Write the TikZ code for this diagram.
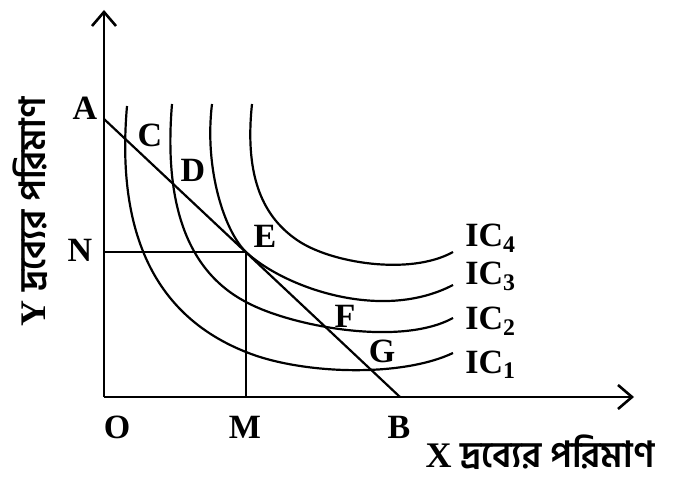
\documentclass[tikz,border=0pt]{standalone}
\usepackage{fontspec}
\setmainfont{Liberation Serif}
\newfontfamily\bnfont[Script=Bengali]{Hind Siliguri}
\usetikzlibrary{arrows.meta, positioning}

\begin{document}
\begin{tikzpicture}[
    x=0.5pt, y=-0.5pt,
    lbl/.style={font=\fontsize{17}{20}\selectfont\bfseries, inner sep=0pt, anchor=base},
    iclbl/.style={lbl, anchor=base west},
    axtitle/.style={lbl, font=\fontsize{18}{20}\selectfont\bfseries,
      text height=13pt, text depth=3pt},
    axis/.style={line width=1.3pt},
    ic/.style={line width=1.1pt},
    >={Straight Barb[length=7pt, width=12pt]},
  ]
  \useasboundingbox (0,0) rectangle (674,480);

  % points
  \coordinate (O) at (104,397);
  \coordinate (Ytip) at (104,10);
  \coordinate (Xtip) at (634,397);
  \coordinate (A) at (104,119);
  \coordinate (B) at (400,397);
  \coordinate (E) at (246,252);
  \coordinate (N) at (104,252);
  \coordinate (M) at (246,397);

  % axes
  \draw[axis, ->] (O) -- (Ytip);
  \draw[axis, ->] (O) -- (Xtip);

  % budget line and drop lines
  \draw[ic] (A) -- (B);
  \draw[ic] (N) -- (E) -- (M);

  % indifference curves
  \draw[ic] (127,106) .. controls (118,210) and (140,310) .. (246,352)
    .. controls (300,374) and (400,378) .. (453,353);
  \draw[ic] (172,104) .. controls (164,200) and (185,270) .. (246,302)
    .. controls (290,326) and (400,347) .. (453,318);
  \draw[ic] (212,104) .. controls (204,170) and (225,232) .. (E)
    .. controls (282,286) and (380,323) .. (453,285);
  \draw[ic] (252,104) .. controls (244,180) and (265,218) .. (297,240)
    .. controls (330,263) and (410,276) .. (453,252);

  % point labels
  \node[lbl] (lA) at (85,120) {A};
  \node[lbl] (lC) at (150,147) {C};
  \node[lbl] (lD) at (193,182) {D};
  \node[lbl] (lE) at (265,248) {E};
  \node[lbl] (lF) at (345,328) {F};
  \node[lbl] (lG) at (382,363) {G};
  \node[lbl] (lN) at (80,262) {N};
  \node[lbl] (lO) at (117,438) {O};
  \node[lbl] (lM) at (245,438) {M};
  \node[lbl] (lB) at (399,438) {B};

  % curve labels
  \node[iclbl] (ic4) at (465,247) {IC\textsubscript{4}};
  \node[iclbl] (ic3) at (465,285) {IC\textsubscript{3}};
  \node[iclbl] (ic2) at (465,330) {IC\textsubscript{2}};
  \node[iclbl] (ic1) at (465,373) {IC\textsubscript{1}};

  % axis titles
  \node[axtitle] (xlbl) at (540,467) {X {\bnfont দ্রব্যের পরিমাণ}};
  \node[axtitle, rotate=90] (ylbl) at (46,212) {Y {\bnfont দ্রব্যের পরিমাণ}};
\end{tikzpicture}
\end{document}
